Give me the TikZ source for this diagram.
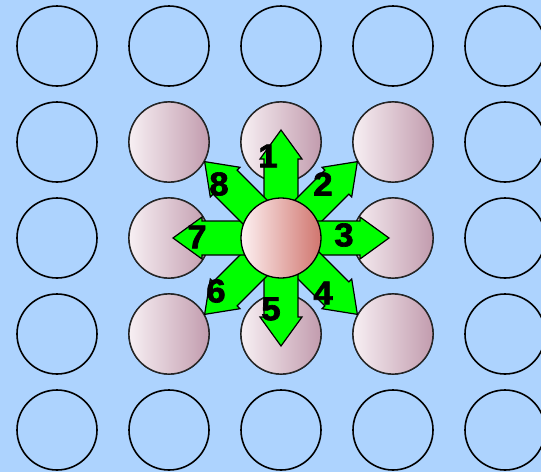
\documentclass[tikz,border=0pt]{standalone}
\usepackage{fontspec}
\setmainfont{Liberation Sans}
\newfontfamily\numfont[FakeBold=2]{Liberation Sans Bold}
\definecolor{bgblue}{HTML}{ADD3FE}
\definecolor{pinkL}{HTML}{F7EFF3}
\definecolor{pinkR}{HTML}{C29CAE}
\definecolor{ctrL}{HTML}{FDF1F2}
\definecolor{ctrR}{HTML}{D0756E}
\definecolor{arrgreen}{HTML}{00FF00}
\begin{document}
\begin{tikzpicture}[x=1pt,y=-1pt,
  emptyc/.style={circle,draw=black,line width=1.6pt,minimum size=80pt,inner sep=0pt},
  pinkc/.style={circle,draw=black!85,line width=1.3pt,minimum size=80pt,inner sep=0pt,left color=pinkL,right color=pinkR},
  ctrc/.style={circle,draw=black,line width=1.3pt,minimum size=80pt,inner sep=0pt,left color=ctrL,right color=ctrR},
  arrowshape/.style={fill=arrgreen,draw=black,line width=1.2pt,line join=miter},
  numlbl/.style={font=\fontsize{33}{33}\numfont\selectfont,inner sep=0pt,xscale=1.05}
]
\fill[bgblue] (0,0) rectangle (541,472);
\useasboundingbox (0,0) rectangle (541,472);
% grid of circles
\foreach \i/\x in {1/57,2/169,3/281,4/393,5/505}{
  \foreach \j/\y in {1/46,2/142,3/238,4/334,5/430}{
    \node[emptyc] (c\i\j) at (\x,\y) {};
  }
}
\foreach \i/\x in {2/169,3/281,4/393}{
  \foreach \j/\y in {2/142,4/334}{
    \node[pinkc] (p\i\j) at (\x,\y) {};
  }
}
\node[pinkc] (p23) at (169,238) {};
\node[pinkc] (p43) at (393,238) {};
% arrows
\coordinate (ctr) at (281,238);
\foreach \a in {90,45,0,-45,-90,-135,180,135}{
  \begin{scope}[shift={(ctr)},rotate=\a]
    \draw[arrowshape] (0,-17) -- (79,-17) -- (79,-21) -- (108,0) -- (79,21) -- (79,17) -- (0,17) -- cycle;
  \end{scope}
}
\node[ctrc] (center) at (ctr) {};
% labels
\node[numlbl] (l1) at (268,156) {1};
\node[numlbl] (l2) at (323,184) {2};
\node[numlbl] (l3) at (344,235) {3};
\node[numlbl] (l4) at (323,293) {4};
\node[numlbl] (l5) at (271,309) {5};
\node[numlbl] (l6) at (216,291) {6};
\node[numlbl] (l7) at (197,237) {7};
\node[numlbl] (l8) at (219,184) {8};
\end{tikzpicture}
\end{document}
